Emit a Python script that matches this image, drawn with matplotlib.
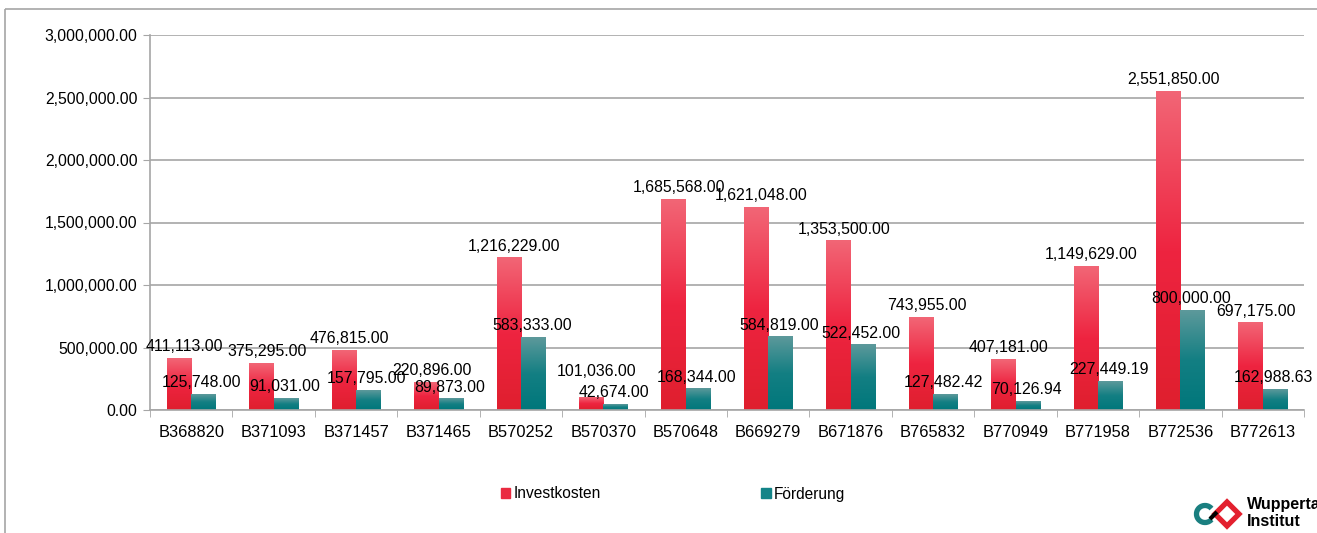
import numpy as np
import matplotlib.pyplot as plt
from matplotlib.colors import LinearSegmentedColormap
from matplotlib.patches import Rectangle, Arc, Polygon
from matplotlib.ticker import FuncFormatter, FixedLocator

plt.rcParams['font.family'] = ['Liberation Sans', 'DejaVu Sans']

# project numbers and amounts (EUR)
projects = ['B368820', 'B371093', 'B371457', 'B371465', 'B570252', 'B570370', 'B570648',
            'B669279', 'B671876', 'B765832', 'B770949', 'B771958', 'B772536', 'B772613']
invest = [411113.00, 375295.00, 476815.00, 220896.00, 1216229.00, 101036.00, 1685568.00,
          1621048.00, 1353500.00, 743955.00, 407181.00, 1149629.00, 2551850.00, 697175.00]
foerderung = [125748.00, 91031.00, 157795.00, 89873.00, 583333.00, 42674.00, 168344.00,
              584819.00, 522452.00, 127482.42, 70126.94, 227449.19, 800000.00, 162988.63]
series_names = ['Investkosten', 'Förderung']

W, H = 1317, 533
fig = plt.figure(figsize=(W / 100, H / 100), dpi=100)

# overlay in pixel coordinates for frame and logo
over = fig.add_axes([0, 0, 1, 1], zorder=-1)
over.set_xlim(0, W)
over.set_ylim(H, 0)
over.axis('off')
over.add_patch(Rectangle((5, 9), W + 20, H + 20, fill=False, edgecolor='#A6A6A6', lw=1.2))

ax = fig.add_axes([150 / W, 1 - 410 / H, (1304 - 150) / W, (410 - 35) / H])

red_cmap = LinearSegmentedColormap.from_list('red', ['#DF1F2E', '#EE2440', '#F26676'])
teal_cmap = LinearSegmentedColormap.from_list('teal', ['#00777B', '#137F83', '#5D999B'])
grad = np.linspace(0, 1, 256).reshape(-1, 1)

# extra lift (pixels) for labels that would collide with the neighbouring one
lift = {('Investkosten', 'B570370'): 14}

x = np.arange(len(projects))
bw = 0.295
for name, vals, off, dx, cmap in [(series_names[0], invest, -bw / 2, 4, red_cmap),
                                  (series_names[1], foerderung, bw / 2, -1, teal_cmap)]:
    bars = ax.bar(x + off, vals, width=bw, color='none', zorder=2)
    for b in bars:
        x0, y0 = b.get_x(), b.get_y()
        ax.imshow(grad, cmap=cmap, origin='lower', aspect='auto', zorder=2,
                  extent=[x0, x0 + b.get_width(), y0, y0 + b.get_height()])
    for p, xi, v in zip(projects, x + off, vals):
        dy = 3 + lift.get((name, p), 0) * 0.72
        ax.annotate(f'{v:,.2f}', (xi, v), xytext=(dx, dy), textcoords='offset points',
                    ha='center', va='bottom', fontsize=11.4, color='black', zorder=4)

ax.set_xlim(-0.5, len(projects) - 0.5)
ax.set_ylim(0, 3000000)
ax.set_yticks(np.arange(0, 3000001, 500000))
ax.yaxis.set_major_formatter(FuncFormatter(lambda v, p: f'{v:,.2f}'))
ax.yaxis.grid(True, color='#A6A6A6', lw=1.2, zorder=0)
ax.set_axisbelow(True)

ax.set_xticks(x)
ax.set_xticklabels(projects)
ax.xaxis.set_minor_locator(FixedLocator(np.arange(-0.5, len(projects), 1)))
ax.tick_params(axis='x', which='major', length=0, pad=11, labelsize=11.8)
ax.tick_params(axis='x', which='minor', length=5, color='#A6A6A6', direction='out')
ax.tick_params(axis='y', length=5, color='#A6A6A6', labelsize=11.3, pad=4)

for s in ['top', 'right']:
    ax.spines[s].set_visible(False)
for s in ['left', 'bottom']:
    ax.spines[s].set_color('#A6A6A6')
    ax.spines[s].set_linewidth(1.2)

# legend
handles = [Rectangle((0, 0), 1, 1, color='#EA2A40'), Rectangle((0, 0), 1, 1, color='#138488')]
fig.legend(handles, series_names, loc='center', bbox_to_anchor=(673 / W, 1 - 494 / H),
           ncol=2, frameon=False, fontsize=11.2, handlelength=0.6, handleheight=0.6,
           handletextpad=0.2, columnspacing=10.3)

# logo
over.add_patch(Arc((1205, 514), 17, 17, theta1=40, theta2=320, color='#1A7F80', lw=3.8))
over.add_patch(Polygon([(1227, 502), (1239, 514), (1227, 526), (1215, 514)], closed=True,
                       fill=False, edgecolor='#E3202E', lw=3.8))
over.plot([1210, 1217], [519, 512], color='black', lw=3, solid_capstyle='butt')
over.text(1247, 505, 'Wuppertal', fontsize=11.5, fontweight='bold', va='center', ha='left')
over.text(1247, 521, 'Institut', fontsize=11.5, fontweight='bold', va='center', ha='left')

fig.savefig('out.png', dpi=100)
